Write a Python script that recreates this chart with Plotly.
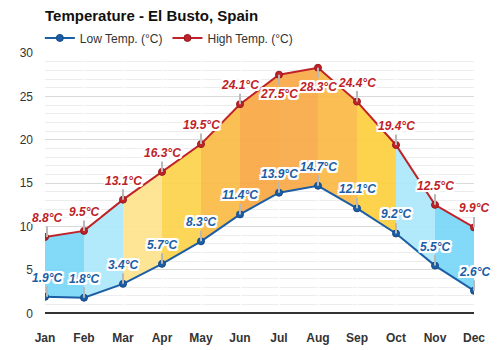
import plotly.graph_objects as go

months = ["Jan", "Feb", "Mar", "Apr", "May", "Jun", "Jul", "Aug", "Sep", "Oct", "Nov", "Dec"]
high_temps = [8.8, 9.5, 13.1, 16.3, 19.5, 24.1, 27.5, 28.3, 24.4, 19.4, 12.5, 9.9]
low_temps = [1.9, 1.8, 3.4, 5.7, 8.3, 11.4, 13.9, 14.7, 12.1, 9.2, 5.5, 2.6]
segment_colors = ["#78d6f7", "#ace8fb", "#fde38c", "#fcd24a", "#fbbb44", "#f9a842",
                  "#f9a844", "#fbb843", "#fdce3e", "#ade8fb", "#78d6f7"]
high_label_below = [False, False, False, False, False, False, True, True, False, False, False, False]

RED = "#bf2228"
BLUE = "#1b5ea6"

fig = go.Figure()

for i, col in enumerate(segment_colors):
    fig.add_trace(go.Scatter(
        x=[months[i], months[i + 1], months[i + 1], months[i], months[i]],
        y=[low_temps[i], low_temps[i + 1], high_temps[i + 1], high_temps[i], low_temps[i]],
        fill="toself", fillcolor=col, opacity=0.92, mode="none",
        showlegend=False, hoverinfo="skip",
    ))

fig.add_trace(go.Scatter(
    x=months, y=low_temps, name="Low Temp. (°C)", mode="lines+markers",
    line=dict(color=BLUE, width=2),
    marker=dict(size=7, color=BLUE, line=dict(color="#134a86", width=1)),
))
fig.add_trace(go.Scatter(
    x=months, y=high_temps, name="High Temp. (°C)", mode="lines+markers",
    line=dict(color=RED, width=2),
    marker=dict(size=7, color=RED, line=dict(color="#951a1f", width=1)),
))

shadow = ("-1px -1px 0 #fff, 1px -1px 0 #fff, -1px 1px 0 #fff, 1px 1px 0 #fff, "
          "0 2px 0 #fff, 0 -2px 0 #fff, 2px 0 0 #fff, -2px 0 0 #fff, "
          "2px 2px 0 #fff, -2px -2px 0 #fff, 2px -2px 0 #fff, -2px 2px 0 #fff")

annotations = []
for i, (m, v, below) in enumerate(zip(months, high_temps, high_label_below)):
    annotations.append(dict(
        x=m, y=v, text=f"{v}°C", showarrow=True, arrowhead=0, arrowwidth=2,
        arrowcolor="#b8b8b8", ax=0, ay=19 if below else -19, standoff=0,
        xshift=2 if i == 0 else 0,
        font=dict(family="Liberation Sans, Arial", size=12, color=RED,
                  weight="bold", style="italic", shadow=shadow),
    ))
for i, (m, v) in enumerate(zip(months, low_temps)):
    annotations.append(dict(
        x=m, y=v, text=f"{v}°C", showarrow=True, arrowhead=0, arrowwidth=2,
        arrowcolor="#b8b8b8", ax=0, ay=-19, standoff=0,
        xshift=2 if i == 0 else 0,
        font=dict(family="Liberation Sans, Arial", size=12, color=BLUE,
                  weight="bold", style="italic", shadow=shadow),
    ))

fig.update_layout(
    width=500, height=350,
    margin=dict(l=45, r=26, t=53, b=28, autoexpand=False),
    paper_bgcolor="white", plot_bgcolor="white",
    font=dict(family="Liberation Sans, Arial", size=12, color="#333333"),
    title=dict(text="<b>Temperature - El Busto, Spain</b>", x=45 / 500, xanchor="left",
               y=1 - 16 / 350, yanchor="middle",
               font=dict(size=15, color="#111111")),
    legend=dict(orientation="h", x=-0.012, xanchor="left", y=1.056, yanchor="middle",
                font=dict(size=12, color="#333333"), bgcolor="rgba(0,0,0,0)",
                itemclick=False),
    annotations=annotations,
    hovermode=False,
)

fig.update_xaxes(
    type="category", range=[0, 11], showgrid=True, gridcolor="rgba(255,255,255,0.9)",
    gridwidth=1, showline=False, zeroline=False, ticks="", automargin=False,
    tickfont=dict(size=12, color="#333333", weight="bold"), ticklabelstandoff=7,
)
fig.update_yaxes(
    range=[-1, 30], tickvals=[0, 5, 10, 15, 20, 25, 30], showgrid=True,
    gridcolor="#d9d9d9", gridwidth=1, automargin=False,
    minor=dict(dtick=1, tick0=0, showgrid=True, gridcolor="#ededed", gridwidth=1),
    zeroline=True, zerolinecolor="#333333", zerolinewidth=1.5, showline=False,
    tickfont=dict(size=12, color="#333333"), ticklabelstandoff=11,
)

fig.write_html("out.html")
